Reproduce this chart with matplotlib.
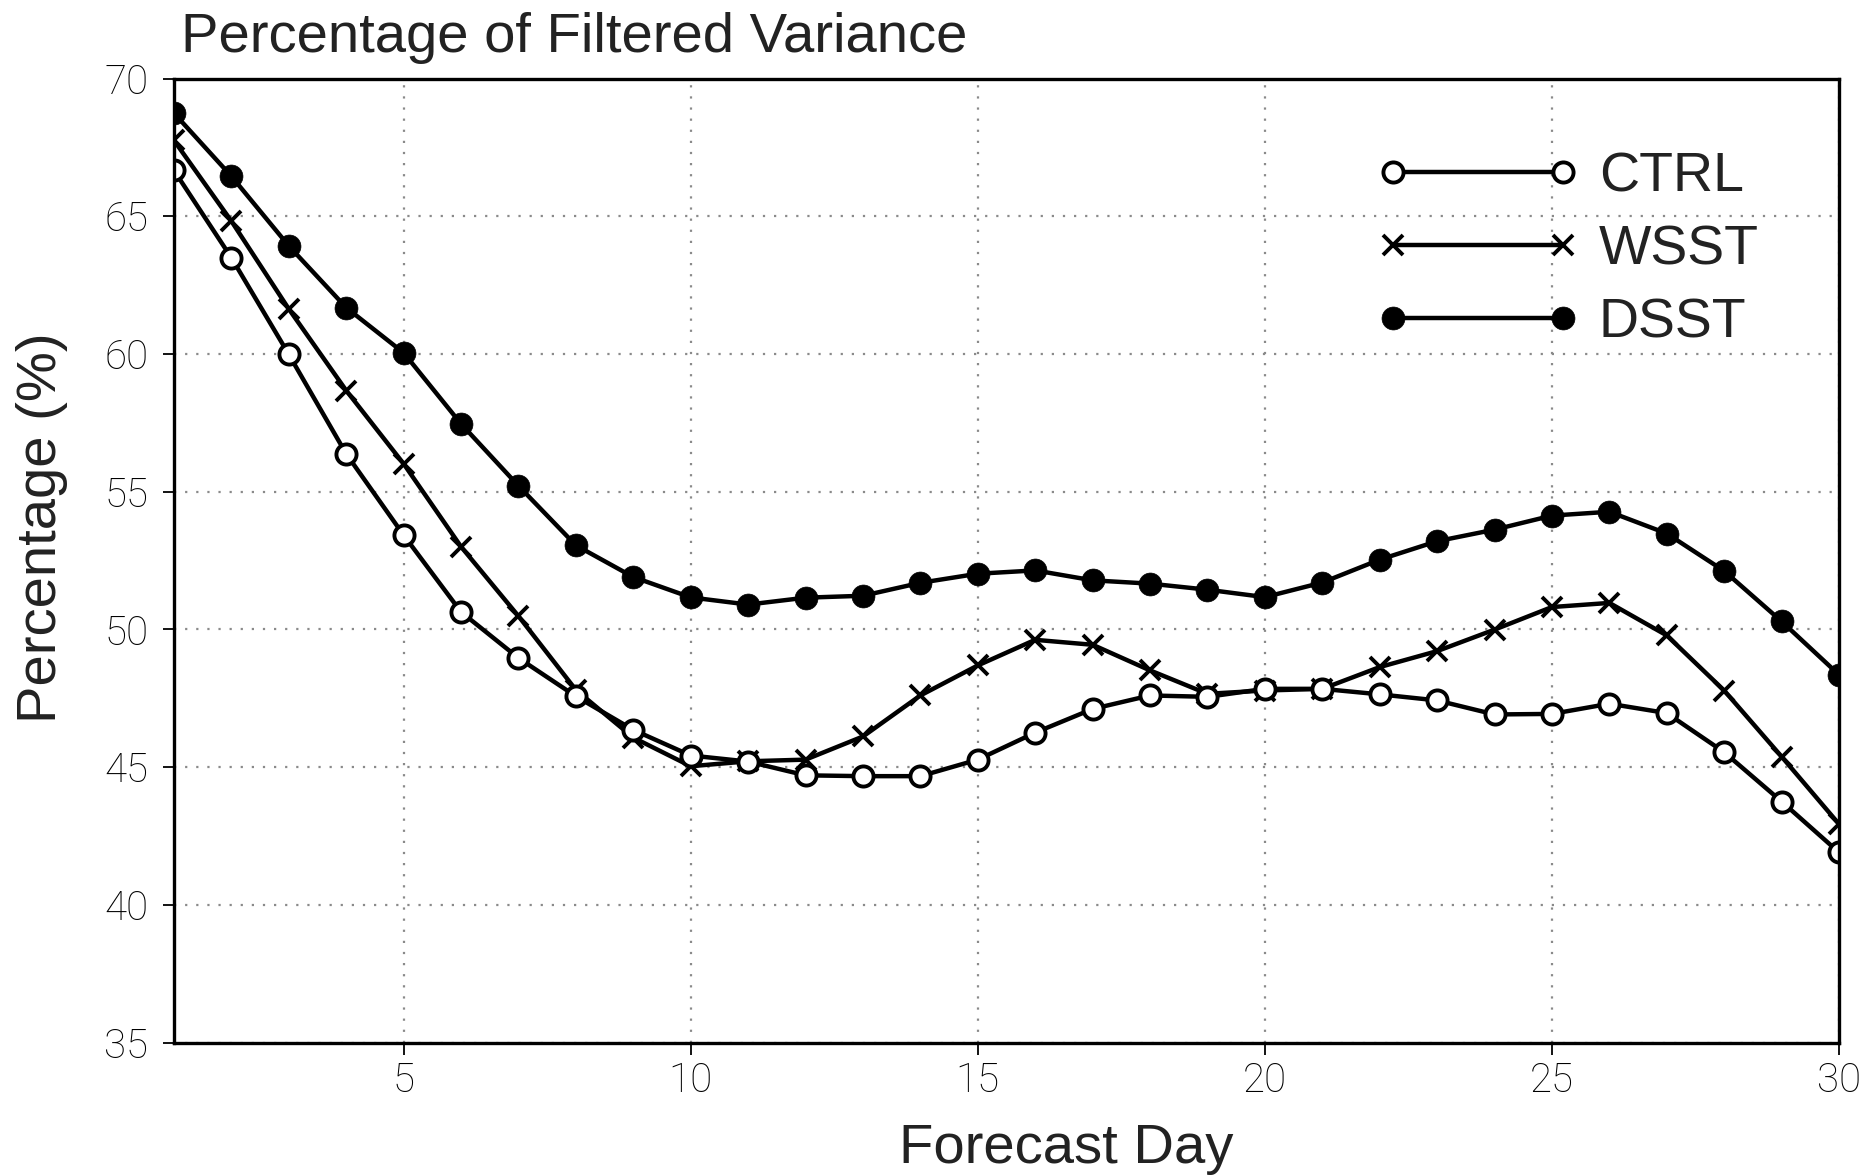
import matplotlib
matplotlib.use("Agg")
import matplotlib.pyplot as plt
from matplotlib.lines import Line2D

days = list(range(1, 31))
ctrl = [66.66, 63.49, 59.98, 56.37, 53.42, 50.63, 48.96, 47.57, 46.35, 45.42,
        45.20, 44.70, 44.67, 44.67, 45.27, 46.25, 47.11, 47.60, 47.55, 47.84,
        47.84, 47.64, 47.42, 46.91, 46.93, 47.30, 46.96, 45.54, 43.75, 41.90]
wsst = [67.75, 64.82, 61.63, 58.67, 56.01, 53.00, 50.48, 47.80, 46.07, 45.03,
        45.21, 45.27, 46.11, 47.60, 48.69, 49.62, 49.44, 48.51, 47.66, 47.78,
        47.84, 48.63, 49.21, 49.99, 50.81, 50.96, 49.78, 47.78, 45.38, 42.93]
dsst = [68.74, 66.45, 63.92, 61.68, 60.04, 57.46, 55.21, 53.05, 51.90, 51.16,
        50.90, 51.15, 51.22, 51.69, 52.02, 52.14, 51.78, 51.66, 51.44, 51.17,
        51.70, 52.53, 53.20, 53.62, 54.13, 54.27, 53.48, 52.12, 50.29, 48.35]
series_names = ["CTRL", "WSST", "DSST"]
xticks = [5, 10, 15, 20, 25, 30]
yticks = [35, 40, 45, 50, 55, 60, 65, 70]

W, H = 1864, 1176
fig = plt.figure(figsize=(W / 100, H / 100), dpi=100)
left, right, top, bottom = 174, 1839, 78.5, 1042.5
ax = fig.add_axes([left / W, 1 - bottom / H, (right - left) / W, (bottom - top) / H])

lw = 3.2
st_dsst = dict(color="black", lw=lw, marker="o", ms=16.5, mfc="black", mec="black", mew=0.5)
st_wsst = dict(color="black", lw=lw, marker="x", ms=14, mec="black", mew=2.8)
st_ctrl = dict(color="black", lw=lw, marker="o", ms=14.5, mfc="white", mec="black", mew=2.8)

ax.plot(days, dsst, **st_dsst, zorder=3)
ax.plot(days, wsst, **st_wsst, zorder=4)
ax.plot(days, ctrl, **st_ctrl, zorder=5)

ax.set_xlim(1, 30)
ax.set_ylim(35, 70)
ax.set_xticks(xticks)
ax.set_yticks(yticks)
ax.grid(True, color="#8a8a8a", linestyle=(0, (1, 4)), linewidth=1.6)
for s in ax.spines.values():
    s.set_linewidth(2.4)
    s.set_zorder(6)

tick_font = dict(family=["Roboto", "DejaVu Sans"], weight="light", size=29)
ax.tick_params(axis="y", direction="out", length=8, width=1.3, pad=10.5)
ax.tick_params(axis="x", direction="out", length=8.5, width=1.3, pad=5.5)
for lab in ax.get_xticklabels() + ax.get_yticklabels():
    lab.set_fontfamily(tick_font["family"])
    lab.set_fontweight(tick_font["weight"])
    lab.set_fontsize(tick_font["size"])
    lab.set_color("black")

label_font = dict(family=["Liberation Sans", "DejaVu Sans"], size=40.5, color="#222222")
fig.text(181 / W, 1 - 52 / H, "Percentage of Filtered Variance", ha="left", va="baseline", **label_font)
fig.text(42 / W, 1 - 528 / H, "Percentage (%)", ha="center", va="center", rotation=90, **label_font)
fig.text(1066 / W, 1 - 1163 / H, "Forecast Day", ha="center", va="baseline", **label_font)

handles = [Line2D([], [], **st_ctrl), Line2D([], [], **st_wsst), Line2D([], [], **st_dsst)]
leg = ax.legend(handles, series_names, loc="upper left",
                bbox_to_anchor=(1376.5 / W, 1 - 151 / H), bbox_transform=fig.transFigure,
                frameon=False, numpoints=2, handlelength=3.65, handletextpad=0.35,
                labelspacing=0.38, borderpad=0, borderaxespad=0,
                prop=dict(family=["Liberation Sans", "DejaVu Sans"], size=40))
for t in leg.get_texts():
    t.set_color("#222222")

fig.savefig("out.png", dpi=100)
